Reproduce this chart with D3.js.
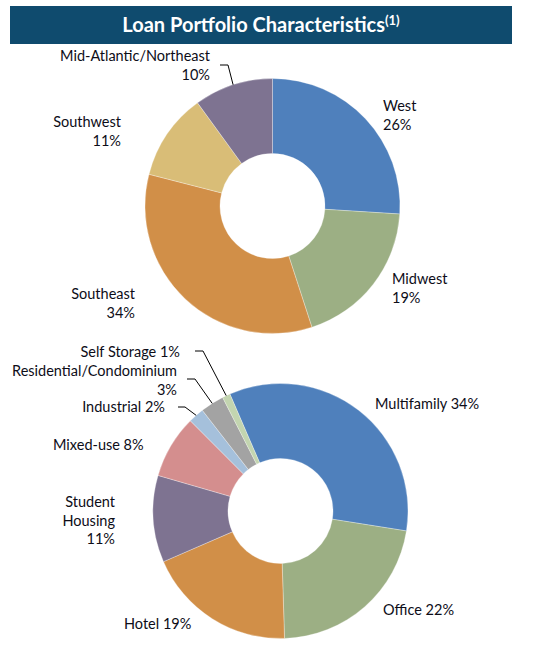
<!DOCTYPE html>
<html>
<head>
<meta charset="utf-8">
<script src="https://cdn.jsdelivr.net/npm/d3@7"></script>
<style>
  body { margin: 0; background: #fff; }
  svg text { font-family: Lato, "Open Sans", sans-serif; }
</style>
</head>
<body>
<svg id="chart"></svg>
<script>
// datos: regiones
const regionNames = ["West", "Midwest", "Southeast", "Southwest", "Mid-Atlantic/Northeast"];
const regionShares = [26, 19, 34, 11, 10];

// datos: tipo de propiedad
const propertyNames = ["Multifamily", "Office", "Hotel", "Student Housing", "Mixed-use", "Industrial", "Residential/Condominium", "Self Storage"];
const propertyShares = [34, 22, 19, 11, 8, 2, 3, 1];

const width = 547;
const height = 654;

const regionColors = ["#4f80bc", "#9caf84", "#d18f48", "#d9bd77", "#7e7391"];
const propertyColors = ["#4f80bc", "#9caf84", "#d18f48", "#7e7391", "#d48e8e", "#a5c0db", "#a3a3a3", "#c3d5b0"];

// posiciones de las etiquetas (x, primera linea base, alineacion, forma)
const regionLabels = [
  { x: 383, y: 111, anchor: "start", mode: "two" },
  { x: 392, y: 284, anchor: "start", mode: "two" },
  { x: 135, y: 299, anchor: "end", mode: "two" },
  { x: 121, y: 127, anchor: "end", mode: "two" },
  { x: 210, y: 61, anchor: "end", mode: "two", leader: [220, 65, 228, 65] }
];
const propertyLabels = [
  { x: 375, y: 409, anchor: "start", mode: "one" },
  { x: 383, y: 615, anchor: "start", mode: "one" },
  { x: 124, y: 629, anchor: "start", mode: "one" },
  { x: 115, y: 507, anchor: "end", mode: "words" },
  { x: 53, y: 450, anchor: "start", mode: "one" },
  { x: 165, y: 412, anchor: "end", mode: "one", leader: [178, 407, 185, 407] },
  { x: 177, y: 376, anchor: "end", mode: "two", leader: [187, 379, 195, 379] },
  { x: 180, y: 357, anchor: "end", mode: "one", leader: [195, 351, 203, 351] }
];

const svg = d3.select("#chart")
              .attr("width", width)
              .attr("height", height);

// barra del titulo
svg.append("rect")
   .attr("x", 10).attr("y", 6)
   .attr("width", 502).attr("height", 38)
   .attr("fill", "#0f4b6e");

const title = svg.append("text")
   .attr("x", 261).attr("y", 32)
   .attr("text-anchor", "middle")
   .attr("fill", "#fff")
   .attr("font-size", 20)
   .attr("font-weight", "bold");
title.append("tspan").text("Loan Portfolio Characteristics");
title.append("tspan").attr("dy", -7).attr("font-size", 13).text("(1)");

function drawDonut(names, shares, colors, labels, cx, cy, startDeg) {
  const rOuter = 127.5;
  const rInner = 52.5;
  const start = startDeg * Math.PI / 180;

  const pie = d3.pie().sort(null).value(d => d)
                .startAngle(start).endAngle(start + 2 * Math.PI);
  const arc = d3.arc().innerRadius(rInner).outerRadius(rOuter);
  const rim = d3.arc().innerRadius(rOuter).outerRadius(rOuter);

  const g = svg.append("g").attr("transform", `translate(${cx},${cy})`);
  const slices = pie(shares);

  g.selectAll("path")
   .data(slices)
   .enter()
   .append("path")
   .attr("d", arc)
   .attr("fill", (d, i) => colors[i])
   .attr("stroke", "#fff")
   .attr("stroke-width", 0.5)
   .attr("stroke-opacity", 0.6);

  slices.forEach((s, i) => {
    const lab = labels[i];
    const name = names[i];
    const pct = shares[i] + "%";
    let lines;
    if (lab.mode === "one") lines = [name + " " + pct];
    else if (lab.mode === "words") lines = name.split(" ").concat([pct]);
    else lines = [name, pct];

    const t = svg.append("text")
       .attr("text-anchor", lab.anchor)
       .attr("font-size", 14.5)
       .attr("fill", "#0d0d18");
    lines.forEach((ln, k) => {
      t.append("tspan").attr("x", lab.x).attr("y", lab.y + k * 18.5).text(ln);
    });

    if (lab.leader) {
      const p = rim.centroid(s);
      svg.append("path")
         .attr("d", d3.line()([[lab.leader[0], lab.leader[1]], [lab.leader[2], lab.leader[3]], [cx + p[0], cy + p[1]]]))
         .attr("fill", "none")
         .attr("stroke", "#000")
         .attr("stroke-width", 1);
    }
  });
}

drawDonut(regionNames, regionShares, regionColors, regionLabels, 272.5, 206, 0);
drawDonut(propertyNames, propertyShares, propertyColors, propertyLabels, 280.5, 511, -23.4);
</script>
</body>
</html>
